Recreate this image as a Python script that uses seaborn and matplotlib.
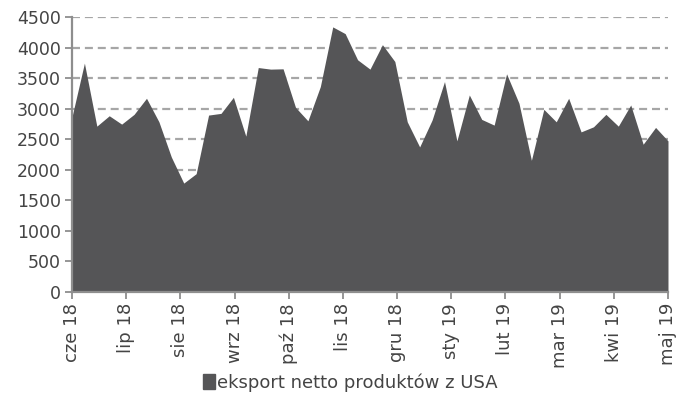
import matplotlib
matplotlib.use("Agg")
import matplotlib.pyplot as plt
import matplotlib.patches as mpatches
import numpy as np
import pandas as pd
import seaborn as sns

# weekly net exports, Jun 2018 - May 2019
values = [2867, 3745, 2714, 2884, 2747, 2907, 3170, 2785, 2209, 1782,
          1936, 2895, 2923, 3186, 2550, 3673, 3647, 3652, 3022, 2801,
          3361, 4338, 4228, 3800, 3647, 4047, 3772, 2785, 2374, 2813,
          3443, 2473, 3224, 2824, 2731, 3570, 3088, 2155, 2989, 2785,
          3170, 2620, 2703, 2907, 2714, 3060, 2418, 2693, 2473]
month_labels = ['cze 18', 'lip 18', 'sie 18', 'wrz 18', 'paź 18', 'lis 18',
                'gru 18', 'sty 19', 'lut 19', 'mar 19', 'kwi 19', 'maj 19']
series_name = 'eksport netto produktów z USA'

df = pd.DataFrame({'week': np.arange(len(values)), 'value': values})

sns.set_style("white")
plt.rcParams['font.family'] = ['DejaVu Sans']

fill_color = '#555557'
grid_color = '#a6a6a6'
axis_color = '#8e8e8e'
text_color = '#444444'

fig = plt.figure(figsize=(6.91, 4.01), dpi=100)
ax = fig.add_axes([0.1042, 0.2718, 0.8625, 0.6858])

sns.lineplot(data=df, x='week', y='value', ax=ax, color=fill_color, linewidth=0)
ax.fill_between(df['week'], df['value'], 0, color=fill_color, linewidth=0, zorder=2)

ax.set_xlim(0, len(values) - 1)
ax.set_ylim(0, 4500)
ax.set_yticks(np.arange(0, 4501, 500))
ax.set_xticks(np.linspace(0, len(values) - 1, len(month_labels)))
ax.set_xticklabels(month_labels, rotation=90)

for yv in np.arange(500, 4501, 500):
    ax.axhline(yv, color=grid_color, linewidth=1.6, linestyle=(0, (3.6, 2.2)), zorder=1)

for s in ['top', 'right']:
    ax.spines[s].set_visible(False)
for s in ['left', 'bottom']:
    ax.spines[s].set_color(axis_color)
    ax.spines[s].set_linewidth(1.6)
    ax.spines[s].set_zorder(3)

ax.tick_params(axis='both', direction='out', length=5, width=1.3, color=axis_color,
               labelsize=12.5, labelcolor=text_color, pad=3)
ax.tick_params(axis='y', left=True)
ax.tick_params(axis='x', bottom=True, labelsize=13)
ax.set_xlabel('')
ax.set_ylabel('')

handle = mpatches.Patch(color=fill_color, label=series_name)
fig.legend(handles=[handle], loc='center', bbox_to_anchor=(0.507, 0.045), frameon=False,
           fontsize=13, handlelength=0.7, handleheight=0.9, handletextpad=0.1,
           labelcolor=text_color)

fig.savefig('out.png', dpi=100)
